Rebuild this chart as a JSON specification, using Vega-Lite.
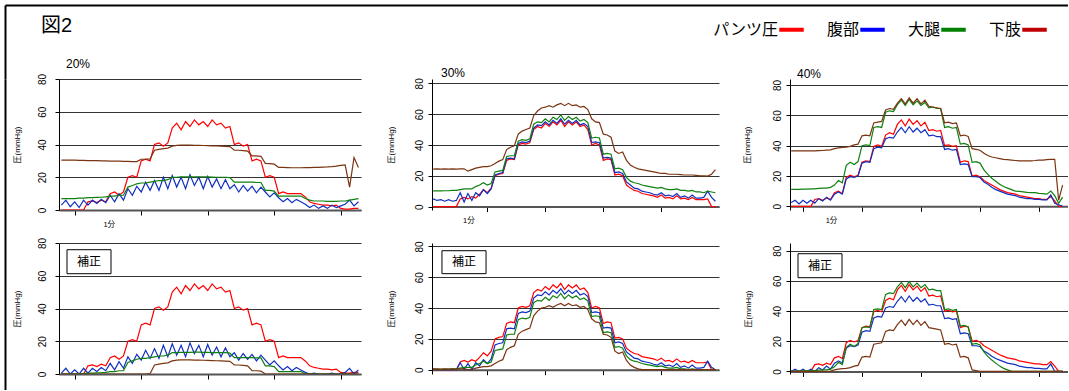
{
  "$schema": "https://vega.github.io/schema/vega-lite/v6.json",
  "padding": {"left": 5, "top": 5, "right": 0, "bottom": 0},
  "background": "white",
  "config": {
    "view": {"stroke": null},
    "font": "Liberation Sans",
    "title": {"font": "Liberation Sans", "fontWeight": "normal", "color": "black"},
    "axis": {"labelColor": "black", "titleColor": "black", "titleFont": "Liberation Sans, Noto Sans CJK JP", "titleFontWeight": "normal", "titleFontSize": 8},
    "axisY": {"grid": true, "gridColor": "#333", "gridWidth": 1, "domainColor": "black", "domainWidth": 1, "tickColor": "black", "tickSize": 4, "labelAngle": 270, "labelAlign": "center", "labelBaseline": "alphabetic", "labelFontSize": 10, "labelFont": "Liberation Sans", "titleAngle": 270, "titleAlign": "center", "titleBaseline": "middle"},
    "axisX": {"grid": false, "domainColor": "#555", "domainWidth": 2, "tickColor": "black", "tickSize": 5, "labelFontSize": 7.5, "labelFont": "Liberation Sans, Noto Sans CJK JP", "labelFlush": false, "labelOverlap": false, "labelBound": false, "labelPadding": 5}
  },
  "datasets": {
    "d20": [
{"t":48,"pants":0,"abd":3,"thigh":7,"leg":30.5,"abd_c":0.5,"thigh_c":0,"leg_c":0},
{"t":52,"pants":0,"abd":6,"thigh":7,"leg":30.5,"abd_c":3.5,"thigh_c":0,"leg_c":0},
{"t":56,"pants":0,"abd":2,"thigh":7,"leg":30.4,"abd_c":0,"thigh_c":0,"leg_c":0},
{"t":60,"pants":0,"abd":5,"thigh":7,"leg":30.4,"abd_c":2.5,"thigh_c":0,"leg_c":0},
{"t":64,"pants":0,"abd":1.5,"thigh":7.2,"leg":30.3,"abd_c":0,"thigh_c":0.2,"leg_c":0},
{"t":68,"pants":0,"abd":6,"thigh":7.3,"leg":30.3,"abd_c":3.5,"thigh_c":0.3,"leg_c":0},
{"t":72,"pants":5,"abd":3,"thigh":7.5,"leg":30.2,"abd_c":0.5,"thigh_c":0.5,"leg_c":0},
{"t":76,"pants":5.5,"abd":6,"thigh":7.5,"leg":30.2,"abd_c":3.5,"thigh_c":0.5,"leg_c":0},
{"t":80,"pants":4.5,"abd":4,"thigh":7.7,"leg":30.1,"abd_c":1.5,"thigh_c":0.7,"leg_c":0},
{"t":84,"pants":6,"abd":6.5,"thigh":7.8,"leg":30,"abd_c":4,"thigh_c":0.8,"leg_c":0},
{"t":88,"pants":5,"abd":4.5,"thigh":8,"leg":30,"abd_c":2,"thigh_c":1,"leg_c":0},
{"t":92,"pants":10,"abd":9,"thigh":8.5,"leg":29.9,"abd_c":6.5,"thigh_c":1.5,"leg_c":0},
{"t":96,"pants":11,"abd":5,"thigh":8.5,"leg":29.8,"abd_c":2.5,"thigh_c":1.5,"leg_c":0},
{"t":100,"pants":9,"abd":10,"thigh":9,"leg":29.8,"abd_c":7.5,"thigh_c":2,"leg_c":0},
{"t":104,"pants":11,"abd":6,"thigh":9,"leg":29.7,"abd_c":3.5,"thigh_c":2,"leg_c":0},
{"t":108,"pants":20,"abd":13,"thigh":14,"leg":29.7,"abd_c":10.5,"thigh_c":7,"leg_c":0},
{"t":112,"pants":21,"abd":9,"thigh":15,"leg":29.6,"abd_c":6.5,"thigh_c":8,"leg_c":0},
{"t":116,"pants":20,"abd":14.5,"thigh":16,"leg":29.6,"abd_c":12,"thigh_c":9,"leg_c":0},
{"t":120,"pants":30,"abd":11,"thigh":16.5,"leg":31,"abd_c":8.5,"thigh_c":9.5,"leg_c":0},
{"t":124,"pants":31,"abd":17,"thigh":16.5,"leg":31,"abd_c":14.5,"thigh_c":9.5,"leg_c":0},
{"t":128,"pants":30,"abd":12,"thigh":17,"leg":31.2,"abd_c":9.5,"thigh_c":10,"leg_c":0.2},
{"t":132,"pants":40,"abd":18,"thigh":17.5,"leg":36.5,"abd_c":15.5,"thigh_c":10.5,"leg_c":5.5},
{"t":136,"pants":41,"abd":12,"thigh":18,"leg":37,"abd_c":9.5,"thigh_c":11,"leg_c":6},
{"t":140,"pants":39,"abd":20,"thigh":18,"leg":37.5,"abd_c":17.5,"thigh_c":11,"leg_c":6.5},
{"t":144,"pants":41,"abd":13,"thigh":18.5,"leg":37.8,"abd_c":10.5,"thigh_c":11.5,"leg_c":6.8},
{"t":148,"pants":50,"abd":21,"thigh":20,"leg":39,"abd_c":18.5,"thigh_c":13,"leg_c":8},
{"t":152,"pants":53,"abd":14,"thigh":20,"leg":39.5,"abd_c":11.5,"thigh_c":13,"leg_c":8.5},
{"t":156,"pants":49,"abd":20,"thigh":20.2,"leg":39.6,"abd_c":17.5,"thigh_c":13.2,"leg_c":8.6},
{"t":160,"pants":54,"abd":13,"thigh":20.2,"leg":39.6,"abd_c":10.5,"thigh_c":13.2,"leg_c":8.6},
{"t":164,"pants":51,"abd":21.5,"thigh":20.2,"leg":39.6,"abd_c":19,"thigh_c":13.2,"leg_c":8.6},
{"t":168,"pants":55,"abd":15,"thigh":20.3,"leg":39.5,"abd_c":12.5,"thigh_c":13.3,"leg_c":8.5},
{"t":172,"pants":52,"abd":20,"thigh":20.3,"leg":39.5,"abd_c":17.5,"thigh_c":13.3,"leg_c":8.5},
{"t":176,"pants":54,"abd":13,"thigh":20.2,"leg":39.4,"abd_c":10.5,"thigh_c":13.2,"leg_c":8.4},
{"t":180,"pants":51,"abd":20.5,"thigh":20.2,"leg":39.3,"abd_c":18,"thigh_c":13.2,"leg_c":8.3},
{"t":184,"pants":55,"abd":14,"thigh":20.1,"leg":39.2,"abd_c":11.5,"thigh_c":13.1,"leg_c":8.2},
{"t":188,"pants":52,"abd":19,"thigh":20,"leg":39.1,"abd_c":16.5,"thigh_c":13,"leg_c":8.1},
{"t":192,"pants":53,"abd":13,"thigh":20,"leg":39,"abd_c":10.5,"thigh_c":13,"leg_c":8},
{"t":196,"pants":50,"abd":18.5,"thigh":20,"leg":38.9,"abd_c":16,"thigh_c":13,"leg_c":7.9},
{"t":200,"pants":51,"abd":13,"thigh":19.8,"leg":38.7,"abd_c":10.5,"thigh_c":12.8,"leg_c":7.7},
{"t":204,"pants":40,"abd":15.5,"thigh":17,"leg":36.5,"abd_c":13,"thigh_c":10,"leg_c":5.5},
{"t":208,"pants":41,"abd":11,"thigh":17,"leg":36.5,"abd_c":8.5,"thigh_c":10,"leg_c":5.5},
{"t":212,"pants":39,"abd":15,"thigh":17,"leg":36.3,"abd_c":12.5,"thigh_c":10,"leg_c":5.3},
{"t":216,"pants":40,"abd":11.5,"thigh":17,"leg":36,"abd_c":9,"thigh_c":10,"leg_c":5},
{"t":220,"pants":30,"abd":14.5,"thigh":17,"leg":33,"abd_c":12,"thigh_c":10,"leg_c":2},
{"t":224,"pants":31,"abd":10.5,"thigh":16.8,"leg":33,"abd_c":8,"thigh_c":9.8,"leg_c":2},
{"t":228,"pants":30,"abd":14,"thigh":16.8,"leg":32.8,"abd_c":11.5,"thigh_c":9.8,"leg_c":1.8},
{"t":232,"pants":20,"abd":11,"thigh":12,"leg":28.5,"abd_c":8.5,"thigh_c":5,"leg_c":0},
{"t":236,"pants":21,"abd":8,"thigh":12,"leg":28.3,"abd_c":5.5,"thigh_c":5,"leg_c":0},
{"t":240,"pants":20,"abd":10.5,"thigh":11.5,"leg":28,"abd_c":8,"thigh_c":4.5,"leg_c":0},
{"t":244,"pants":10,"abd":7.5,"thigh":8.5,"leg":26,"abd_c":5,"thigh_c":1.5,"leg_c":0},
{"t":248,"pants":11,"abd":5,"thigh":8.5,"leg":26,"abd_c":2.5,"thigh_c":1.5,"leg_c":0},
{"t":252,"pants":10,"abd":7,"thigh":8.5,"leg":25.9,"abd_c":4.5,"thigh_c":1.5,"leg_c":0},
{"t":256,"pants":10,"abd":4.5,"thigh":8.5,"leg":25.8,"abd_c":2,"thigh_c":1.5,"leg_c":0},
{"t":260,"pants":10,"abd":6.5,"thigh":8.5,"leg":25.8,"abd_c":4,"thigh_c":1.5,"leg_c":0},
{"t":264,"pants":10,"abd":5,"thigh":8.5,"leg":25.8,"abd_c":2.5,"thigh_c":1.5,"leg_c":0},
{"t":268,"pants":8,"abd":3.5,"thigh":7,"leg":25.9,"abd_c":1,"thigh_c":0,"leg_c":0},
{"t":272,"pants":5,"abd":1.5,"thigh":6,"leg":25.9,"abd_c":0,"thigh_c":0,"leg_c":0},
{"t":276,"pants":4,"abd":3,"thigh":5.5,"leg":26,"abd_c":0.5,"thigh_c":0,"leg_c":0},
{"t":280,"pants":3.5,"abd":1,"thigh":5.5,"leg":26,"abd_c":0,"thigh_c":0,"leg_c":0},
{"t":284,"pants":3,"abd":2.5,"thigh":5.5,"leg":26.2,"abd_c":0,"thigh_c":0,"leg_c":0},
{"t":288,"pants":3,"abd":1,"thigh":5.3,"leg":26.3,"abd_c":0,"thigh_c":0,"leg_c":0},
{"t":292,"pants":2.5,"abd":3,"thigh":5.3,"leg":26.5,"abd_c":0.5,"thigh_c":0,"leg_c":0},
{"t":296,"pants":3,"abd":1.5,"thigh":5.3,"leg":26.8,"abd_c":0,"thigh_c":0,"leg_c":0},
{"t":300,"pants":1,"abd":2.5,"thigh":5.5,"leg":27.2,"abd_c":0,"thigh_c":0,"leg_c":0},
{"t":304,"pants":0.5,"abd":3.5,"thigh":5.5,"leg":27.6,"abd_c":1,"thigh_c":0,"leg_c":0},
{"t":308,"pants":0.5,"abd":6,"thigh":6,"leg":14,"abd_c":3.5,"thigh_c":0,"leg_c":0},
{"t":312,"pants":1,"abd":2.5,"thigh":6.5,"leg":32,"abd_c":0,"thigh_c":0,"leg_c":0},
{"t":316,"pants":1,"abd":5,"thigh":7,"leg":26,"abd_c":2.5,"thigh_c":0,"leg_c":0}
    ],
    "d30": [
{"t":64,"pants":0,"abd":5,"thigh":10.2,"leg":24.3,"abd_c":0.5,"thigh_c":0.2,"leg_c":0.3},
{"t":68,"pants":0,"abd":4,"thigh":10.2,"leg":24.5,"abd_c":0,"thigh_c":0.2,"leg_c":0.5},
{"t":72,"pants":0,"abd":4.5,"thigh":10.2,"leg":24.3,"abd_c":0,"thigh_c":0.2,"leg_c":0.3},
{"t":76,"pants":0,"abd":3.5,"thigh":10.3,"leg":24.5,"abd_c":0,"thigh_c":0.3,"leg_c":0.5},
{"t":80,"pants":0,"abd":4.5,"thigh":10.3,"leg":24.3,"abd_c":0,"thigh_c":0.3,"leg_c":0.3},
{"t":84,"pants":0,"abd":3.5,"thigh":10.5,"leg":24.5,"abd_c":0,"thigh_c":0.5,"leg_c":0.5},
{"t":88,"pants":0,"abd":4,"thigh":10.5,"leg":24.3,"abd_c":0,"thigh_c":0.5,"leg_c":0.3},
{"t":92,"pants":5,"abd":9,"thigh":11,"leg":24.5,"abd_c":4.5,"thigh_c":1,"leg_c":0.5},
{"t":96,"pants":6,"abd":3,"thigh":11.5,"leg":24.5,"abd_c":0,"thigh_c":1.5,"leg_c":0.5},
{"t":100,"pants":5,"abd":8.5,"thigh":11.5,"leg":23,"abd_c":4,"thigh_c":1.5,"leg_c":0},
{"t":104,"pants":6.5,"abd":4,"thigh":11.5,"leg":24,"abd_c":0,"thigh_c":1.5,"leg_c":0},
{"t":108,"pants":5.5,"abd":9,"thigh":13,"leg":25,"abd_c":4.5,"thigh_c":3,"leg_c":1},
{"t":112,"pants":8,"abd":7,"thigh":14,"leg":25.5,"abd_c":2.5,"thigh_c":4,"leg_c":1.5},
{"t":116,"pants":11,"abd":11,"thigh":15.5,"leg":26,"abd_c":6.5,"thigh_c":5.5,"leg_c":2},
{"t":120,"pants":9,"abd":8.5,"thigh":14,"leg":26,"abd_c":4,"thigh_c":4,"leg_c":2},
{"t":124,"pants":12,"abd":11.5,"thigh":15,"leg":26.5,"abd_c":7,"thigh_c":5,"leg_c":2.5},
{"t":128,"pants":20,"abd":20.5,"thigh":22.5,"leg":28,"abd_c":16,"thigh_c":12.5,"leg_c":4},
{"t":132,"pants":21,"abd":21.5,"thigh":23,"leg":29.5,"abd_c":17,"thigh_c":13,"leg_c":5.5},
{"t":136,"pants":21.5,"abd":22,"thigh":23.5,"leg":30.5,"abd_c":17.5,"thigh_c":13.5,"leg_c":6.5},
{"t":140,"pants":30,"abd":31,"thigh":32.5,"leg":37,"abd_c":26.5,"thigh_c":22.5,"leg_c":13},
{"t":144,"pants":31,"abd":31.5,"thigh":33,"leg":38.5,"abd_c":27,"thigh_c":23,"leg_c":14.5},
{"t":148,"pants":30.5,"abd":31,"thigh":33,"leg":39.5,"abd_c":26.5,"thigh_c":23,"leg_c":15.5},
{"t":152,"pants":40,"abd":41,"thigh":42.5,"leg":47,"abd_c":36.5,"thigh_c":32.5,"leg_c":23},
{"t":156,"pants":41,"abd":42,"thigh":43.5,"leg":49,"abd_c":37.5,"thigh_c":33.5,"leg_c":25},
{"t":160,"pants":40.5,"abd":41.5,"thigh":43,"leg":50,"abd_c":37,"thigh_c":33,"leg_c":26},
{"t":164,"pants":41.5,"abd":42.5,"thigh":44,"leg":51,"abd_c":38,"thigh_c":34,"leg_c":27},
{"t":168,"pants":50,"abd":51,"thigh":53.5,"leg":59,"abd_c":46.5,"thigh_c":43.5,"leg_c":35},
{"t":172,"pants":52,"abd":53,"thigh":55,"leg":62,"abd_c":48.5,"thigh_c":45,"leg_c":38},
{"t":176,"pants":51,"abd":52.5,"thigh":54.5,"leg":64,"abd_c":48,"thigh_c":44.5,"leg_c":40},
{"t":180,"pants":54,"abd":55,"thigh":57,"leg":64.5,"abd_c":50.5,"thigh_c":47,"leg_c":40.5},
{"t":184,"pants":52,"abd":53,"thigh":55,"leg":65.5,"abd_c":48.5,"thigh_c":45,"leg_c":41.5},
{"t":188,"pants":55,"abd":56,"thigh":58,"leg":64.5,"abd_c":51.5,"thigh_c":48,"leg_c":40.5},
{"t":192,"pants":53,"abd":54,"thigh":56.5,"leg":66,"abd_c":49.5,"thigh_c":46.5,"leg_c":42},
{"t":196,"pants":56,"abd":57,"thigh":59.5,"leg":67,"abd_c":52.5,"thigh_c":49.5,"leg_c":43},
{"t":200,"pants":52,"abd":53.5,"thigh":56,"leg":65.5,"abd_c":49,"thigh_c":46,"leg_c":41.5},
{"t":204,"pants":55,"abd":56,"thigh":58.5,"leg":67,"abd_c":51.5,"thigh_c":48.5,"leg_c":43},
{"t":208,"pants":53,"abd":54,"thigh":56.5,"leg":65.5,"abd_c":49.5,"thigh_c":46.5,"leg_c":41.5},
{"t":212,"pants":55,"abd":56,"thigh":58,"leg":66,"abd_c":51.5,"thigh_c":48,"leg_c":42},
{"t":216,"pants":52,"abd":53,"thigh":55.5,"leg":64.5,"abd_c":48.5,"thigh_c":45.5,"leg_c":40.5},
{"t":220,"pants":53,"abd":54,"thigh":56.5,"leg":65,"abd_c":49.5,"thigh_c":46.5,"leg_c":41},
{"t":224,"pants":50,"abd":52,"thigh":54.5,"leg":63,"abd_c":47.5,"thigh_c":44.5,"leg_c":39},
{"t":228,"pants":40,"abd":41.5,"thigh":44.5,"leg":57,"abd_c":37,"thigh_c":34.5,"leg_c":33},
{"t":232,"pants":41,"abd":42,"thigh":45,"leg":55,"abd_c":37.5,"thigh_c":35,"leg_c":31},
{"t":236,"pants":40,"abd":41.5,"thigh":44.5,"leg":54.5,"abd_c":37,"thigh_c":34.5,"leg_c":30.5},
{"t":240,"pants":30,"abd":31.5,"thigh":34,"leg":47,"abd_c":27,"thigh_c":24,"leg_c":23},
{"t":244,"pants":31,"abd":32,"thigh":34.5,"leg":46.5,"abd_c":27.5,"thigh_c":24.5,"leg_c":22.5},
{"t":248,"pants":30.5,"abd":31.5,"thigh":34,"leg":45,"abd_c":27,"thigh_c":24,"leg_c":21},
{"t":252,"pants":20.5,"abd":22,"thigh":24.5,"leg":36,"abd_c":17.5,"thigh_c":14.5,"leg_c":12},
{"t":256,"pants":21,"abd":22.5,"thigh":25,"leg":34.5,"abd_c":18,"thigh_c":15,"leg_c":10.5},
{"t":260,"pants":20,"abd":21.5,"thigh":24,"leg":35.5,"abd_c":17,"thigh_c":14,"leg_c":11.5},
{"t":264,"pants":14,"abd":16,"thigh":19,"leg":30,"abd_c":11.5,"thigh_c":9,"leg_c":6},
{"t":268,"pants":12,"abd":14,"thigh":16.5,"leg":27,"abd_c":9.5,"thigh_c":6.5,"leg_c":3},
{"t":272,"pants":10.5,"abd":12,"thigh":15.5,"leg":25.5,"abd_c":7.5,"thigh_c":5.5,"leg_c":1.5},
{"t":276,"pants":10,"abd":11.5,"thigh":15,"leg":24.5,"abd_c":7,"thigh_c":5,"leg_c":0.5},
{"t":280,"pants":8.5,"abd":10,"thigh":14,"leg":24,"abd_c":5.5,"thigh_c":4,"leg_c":0},
{"t":284,"pants":8,"abd":9.5,"thigh":13.5,"leg":23.5,"abd_c":5,"thigh_c":3.5,"leg_c":0},
{"t":288,"pants":7.5,"abd":9,"thigh":13,"leg":23,"abd_c":4.5,"thigh_c":3,"leg_c":0},
{"t":292,"pants":7,"abd":8,"thigh":12.5,"leg":22.5,"abd_c":3.5,"thigh_c":2.5,"leg_c":0},
{"t":296,"pants":6,"abd":7.5,"thigh":12,"leg":22,"abd_c":3,"thigh_c":2,"leg_c":0},
{"t":300,"pants":7.5,"abd":9,"thigh":12.5,"leg":21.5,"abd_c":4.5,"thigh_c":2.5,"leg_c":0},
{"t":304,"pants":5.5,"abd":7,"thigh":11.5,"leg":21.5,"abd_c":2.5,"thigh_c":1.5,"leg_c":0},
{"t":308,"pants":6,"abd":7.5,"thigh":11,"leg":21,"abd_c":3,"thigh_c":1,"leg_c":0},
{"t":312,"pants":5,"abd":6.5,"thigh":11,"leg":21,"abd_c":2,"thigh_c":1,"leg_c":0},
{"t":316,"pants":7,"abd":8.5,"thigh":11.5,"leg":21,"abd_c":4,"thigh_c":1.5,"leg_c":0},
{"t":320,"pants":5,"abd":6,"thigh":10.5,"leg":20.8,"abd_c":1.5,"thigh_c":0.5,"leg_c":0},
{"t":324,"pants":5.5,"abd":7,"thigh":10.5,"leg":20.5,"abd_c":2.5,"thigh_c":0.5,"leg_c":0},
{"t":328,"pants":4.5,"abd":5.5,"thigh":10,"leg":20.5,"abd_c":1,"thigh_c":0,"leg_c":0},
{"t":332,"pants":6,"abd":7.5,"thigh":10.5,"leg":20.5,"abd_c":3,"thigh_c":0.5,"leg_c":0},
{"t":336,"pants":4.5,"abd":5.5,"thigh":9.5,"leg":20.3,"abd_c":1,"thigh_c":0,"leg_c":0},
{"t":340,"pants":4.5,"abd":5.5,"thigh":9.5,"leg":20,"abd_c":1,"thigh_c":0,"leg_c":0},
{"t":344,"pants":4.5,"abd":6,"thigh":9,"leg":20,"abd_c":1.5,"thigh_c":0,"leg_c":0},
{"t":348,"pants":5,"abd":10,"thigh":10,"leg":19.8,"abd_c":5.5,"thigh_c":0,"leg_c":0},
{"t":352,"pants":0,"abd":6,"thigh":9.5,"leg":21,"abd_c":1.5,"thigh_c":0,"leg_c":0},
{"t":356,"pants":0,"abd":3.5,"thigh":9,"leg":24,"abd_c":0,"thigh_c":0,"leg_c":0}
    ],
    "d40": [
{"t":48,"pants":0,"abd":2.5,"thigh":11.2,"leg":36.6,"abd_c":0,"thigh_c":0.2,"leg_c":0},
{"t":52,"pants":0,"abd":4,"thigh":11.2,"leg":36.5,"abd_c":1.5,"thigh_c":0.2,"leg_c":0},
{"t":56,"pants":0,"abd":1.5,"thigh":11.2,"leg":36.6,"abd_c":0,"thigh_c":0.2,"leg_c":0},
{"t":60,"pants":0,"abd":4,"thigh":11.3,"leg":36.5,"abd_c":1.5,"thigh_c":0.3,"leg_c":0},
{"t":64,"pants":0,"abd":2,"thigh":11.3,"leg":36.5,"abd_c":0,"thigh_c":0.3,"leg_c":0},
{"t":68,"pants":0,"abd":4,"thigh":11.5,"leg":36.6,"abd_c":1.5,"thigh_c":0.5,"leg_c":0},
{"t":72,"pants":4.5,"abd":2,"thigh":11.5,"leg":36.5,"abd_c":0,"thigh_c":0.5,"leg_c":0},
{"t":76,"pants":5,"abd":5,"thigh":11.8,"leg":36.7,"abd_c":2.5,"thigh_c":0.8,"leg_c":0},
{"t":80,"pants":4,"abd":3.5,"thigh":12,"leg":36.8,"abd_c":1,"thigh_c":1,"leg_c":0},
{"t":84,"pants":5.5,"abd":6,"thigh":12,"leg":37,"abd_c":3.5,"thigh_c":1,"leg_c":0},
{"t":88,"pants":4.5,"abd":4,"thigh":12.5,"leg":37.2,"abd_c":1.5,"thigh_c":1.5,"leg_c":0.2},
{"t":92,"pants":9,"abd":8,"thigh":14,"leg":38,"abd_c":5.5,"thigh_c":3,"leg_c":1},
{"t":96,"pants":10,"abd":9.5,"thigh":17,"leg":38.5,"abd_c":7,"thigh_c":6,"leg_c":1.5},
{"t":100,"pants":8.5,"abd":8,"thigh":15.5,"leg":38.8,"abd_c":5.5,"thigh_c":4.5,"leg_c":1.8},
{"t":104,"pants":19,"abd":18,"thigh":27,"leg":39,"abd_c":15.5,"thigh_c":16,"leg_c":2},
{"t":108,"pants":20.5,"abd":19.5,"thigh":29,"leg":39.5,"abd_c":17,"thigh_c":18,"leg_c":2.5},
{"t":112,"pants":19.5,"abd":19,"thigh":27.5,"leg":40.5,"abd_c":16.5,"thigh_c":16.5,"leg_c":3.5},
{"t":116,"pants":20.5,"abd":20,"thigh":29.5,"leg":41,"abd_c":17.5,"thigh_c":18.5,"leg_c":4},
{"t":120,"pants":29,"abd":28.5,"thigh":40,"leg":46.5,"abd_c":26,"thigh_c":29,"leg_c":9.5},
{"t":124,"pants":30,"abd":29.5,"thigh":40.5,"leg":47,"abd_c":27,"thigh_c":29.5,"leg_c":10},
{"t":128,"pants":29.5,"abd":29,"thigh":40,"leg":46.5,"abd_c":26.5,"thigh_c":29,"leg_c":9.5},
{"t":132,"pants":39.5,"abd":38,"thigh":52,"leg":55,"abd_c":35.5,"thigh_c":41,"leg_c":18},
{"t":136,"pants":40.5,"abd":39,"thigh":52.5,"leg":55.5,"abd_c":36.5,"thigh_c":41.5,"leg_c":18.5},
{"t":140,"pants":39.5,"abd":38.5,"thigh":52,"leg":56,"abd_c":36,"thigh_c":41,"leg_c":19},
{"t":144,"pants":47,"abd":44.5,"thigh":62,"leg":63.5,"abd_c":42,"thigh_c":51,"leg_c":26.5},
{"t":148,"pants":48.5,"abd":45.5,"thigh":63,"leg":64.5,"abd_c":43,"thigh_c":52,"leg_c":27.5},
{"t":152,"pants":47.5,"abd":45,"thigh":62.5,"leg":64,"abd_c":42.5,"thigh_c":51.5,"leg_c":27},
{"t":156,"pants":54,"abd":49,"thigh":67,"leg":68,"abd_c":46.5,"thigh_c":56,"leg_c":31},
{"t":160,"pants":57,"abd":52,"thigh":70,"leg":71,"abd_c":49.5,"thigh_c":59,"leg_c":34},
{"t":164,"pants":53,"abd":48.5,"thigh":66.5,"leg":67.5,"abd_c":46,"thigh_c":55.5,"leg_c":30.5},
{"t":168,"pants":57.5,"abd":52.5,"thigh":70.5,"leg":71.5,"abd_c":50,"thigh_c":59.5,"leg_c":34.5},
{"t":172,"pants":54,"abd":49,"thigh":67,"leg":68,"abd_c":46.5,"thigh_c":56,"leg_c":31},
{"t":176,"pants":56.5,"abd":51.5,"thigh":69.5,"leg":71,"abd_c":49,"thigh_c":58.5,"leg_c":34},
{"t":180,"pants":53,"abd":48.5,"thigh":66.5,"leg":67.5,"abd_c":46,"thigh_c":55.5,"leg_c":30.5},
{"t":184,"pants":55.5,"abd":50.5,"thigh":68.5,"leg":70,"abd_c":48,"thigh_c":57.5,"leg_c":33},
{"t":188,"pants":50,"abd":46.5,"thigh":65,"leg":66,"abd_c":44,"thigh_c":54,"leg_c":29},
{"t":192,"pants":50.5,"abd":47,"thigh":65.5,"leg":65.5,"abd_c":44.5,"thigh_c":54.5,"leg_c":28.5},
{"t":196,"pants":49.5,"abd":46,"thigh":64.5,"leg":65,"abd_c":43.5,"thigh_c":53.5,"leg_c":28},
{"t":200,"pants":50,"abd":46,"thigh":64.5,"leg":64.5,"abd_c":43.5,"thigh_c":53.5,"leg_c":27.5},
{"t":204,"pants":40,"abd":37.5,"thigh":52,"leg":55,"abd_c":35,"thigh_c":41,"leg_c":18},
{"t":208,"pants":40.5,"abd":38,"thigh":52.5,"leg":55.5,"abd_c":35.5,"thigh_c":41.5,"leg_c":18.5},
{"t":212,"pants":39.5,"abd":37,"thigh":51.5,"leg":54.5,"abd_c":34.5,"thigh_c":40.5,"leg_c":17.5},
{"t":216,"pants":40,"abd":37.5,"thigh":52,"leg":55,"abd_c":35,"thigh_c":41,"leg_c":18},
{"t":220,"pants":29,"abd":27.5,"thigh":41,"leg":46.5,"abd_c":25,"thigh_c":30,"leg_c":9.5},
{"t":224,"pants":30,"abd":28,"thigh":41.5,"leg":47,"abd_c":25.5,"thigh_c":30.5,"leg_c":10},
{"t":228,"pants":29.5,"abd":27.5,"thigh":40.5,"leg":46,"abd_c":25,"thigh_c":29.5,"leg_c":9},
{"t":232,"pants":20,"abd":19.5,"thigh":29,"leg":38,"abd_c":17,"thigh_c":18,"leg_c":1},
{"t":236,"pants":20.5,"abd":19.5,"thigh":29.5,"leg":37.5,"abd_c":17,"thigh_c":18.5,"leg_c":0.5},
{"t":240,"pants":19.5,"abd":19,"thigh":28.5,"leg":37,"abd_c":16.5,"thigh_c":17.5,"leg_c":0},
{"t":244,"pants":17,"abd":16,"thigh":24,"leg":35,"abd_c":13.5,"thigh_c":13,"leg_c":0},
{"t":248,"pants":15.5,"abd":14.5,"thigh":21,"leg":33.5,"abd_c":12,"thigh_c":10,"leg_c":0},
{"t":252,"pants":14,"abd":12.5,"thigh":18.5,"leg":32.5,"abd_c":10,"thigh_c":7.5,"leg_c":0},
{"t":256,"pants":12.5,"abd":11,"thigh":16.5,"leg":32,"abd_c":8.5,"thigh_c":5.5,"leg_c":0},
{"t":260,"pants":11,"abd":10,"thigh":14.5,"leg":31.5,"abd_c":7.5,"thigh_c":3.5,"leg_c":0},
{"t":264,"pants":10,"abd":9,"thigh":13,"leg":31,"abd_c":6.5,"thigh_c":2,"leg_c":0},
{"t":268,"pants":9,"abd":8,"thigh":12,"leg":30.8,"abd_c":5.5,"thigh_c":1,"leg_c":0},
{"t":272,"pants":8.5,"abd":7.5,"thigh":11,"leg":30.5,"abd_c":5,"thigh_c":0,"leg_c":0},
{"t":276,"pants":8,"abd":7,"thigh":10,"leg":30.2,"abd_c":4.5,"thigh_c":0,"leg_c":0},
{"t":280,"pants":7,"abd":6,"thigh":9.8,"leg":30,"abd_c":3.5,"thigh_c":0,"leg_c":0},
{"t":284,"pants":6.5,"abd":5.5,"thigh":9.5,"leg":30,"abd_c":3,"thigh_c":0,"leg_c":0},
{"t":288,"pants":6,"abd":5,"thigh":9.2,"leg":30,"abd_c":2.5,"thigh_c":0,"leg_c":0},
{"t":292,"pants":5.5,"abd":5,"thigh":9,"leg":30,"abd_c":2.5,"thigh_c":0,"leg_c":0},
{"t":296,"pants":5,"abd":4.5,"thigh":9,"leg":30.2,"abd_c":2,"thigh_c":0,"leg_c":0},
{"t":300,"pants":5,"abd":4.5,"thigh":8.5,"leg":30.5,"abd_c":2,"thigh_c":0,"leg_c":0},
{"t":304,"pants":4.5,"abd":4.2,"thigh":8.3,"leg":30.5,"abd_c":1.7,"thigh_c":0,"leg_c":0},
{"t":308,"pants":4.5,"abd":4.2,"thigh":8,"leg":30.8,"abd_c":1.7,"thigh_c":0,"leg_c":0},
{"t":312,"pants":6.5,"abd":7.5,"thigh":10,"leg":31,"abd_c":5,"thigh_c":0,"leg_c":0},
{"t":316,"pants":3.5,"abd":2,"thigh":7,"leg":31,"abd_c":0,"thigh_c":0,"leg_c":0},
{"t":320,"pants":0,"abd":1,"thigh":2,"leg":4,"abd_c":0,"thigh_c":0,"leg_c":0},
{"t":324,"pants":0,"abd":0,"thigh":6,"leg":14,"abd_c":0,"thigh_c":0,"leg_c":0}
    ]
  },
  "resolve": {"scale": {"color": "independent"}, "legend": {"color": "independent"}},
  "spacing": -22,
  "vconcat": [
    {
      "width": 1063, "height": 74,
      "data": {"values": [{"series": "パンツ圧"}, {"series": "腹部"}, {"series": "大腿"}, {"series": "下肢"}]},
      "mark": {"type": "line"},
      "encoding": {
        "x": {"field": "series", "type": "nominal", "axis": {"orient": "top", "domainColor": "black", "domainWidth": 2, "ticks": false, "labels": false, "title": null, "grid": false}},
        "y": {"field": "series", "type": "nominal", "axis": {"orient": "left", "domainColor": "black", "domainWidth": 2, "ticks": false, "labels": false, "title": null, "grid": false}},
        "color": {"field": "series", "type": "nominal",
          "scale": {"domain": ["パンツ圧", "腹部", "大腿", "下肢"], "range": ["#ff0000", "#0000ff", "#008000", "#c00000"]},
          "legend": {"orient": "none", "legendX": 772, "legendY": 10, "direction": "horizontal", "title": null, "labelFont": "Noto Sans CJK JP", "labelFontSize": 16, "labelColor": "black", "symbolType": "stroke", "symbolStrokeWidth": 4, "symbolSize": 600, "symbolOpacity": 1, "labelAlign": "right", "labelOffset": -28, "columnPadding": 14, "padding": 0}}
      },
      "title": {"text": "図2", "orient": "bottom", "anchor": "start", "frame": "group", "dx": 36, "offset": -63, "baseline": "top", "fontSize": 20, "font": "Liberation Sans, Noto Sans CJK JP"}
    },
    {
      "spacing": 7,
      "resolve": {"scale": {"color": "independent"}, "legend": {"color": "independent"}},
      "hconcat": [
        {
          "width": 1, "height": 311,
          "data": {"values": [{"v": 0}, {"v": 1}]},
          "mark": {"type": "point", "size": 0, "opacity": 0},
          "encoding": {
            "y": {"field": "v", "type": "quantitative", "axis": {"orient": "left", "domainColor": "black", "domainWidth": 2, "ticks": false, "labels": false, "title": null, "grid": false}}
          }
        },
        {
          "spacing": 9,
          "resolve": {"scale": {"color": "independent"}, "legend": {"color": "independent"}},
          "vconcat": [
            {
              "hconcat": [
                {
                  "width": 302, "height": 131,
                  "title": {"text": "20%", "anchor": "start", "frame": "group", "dx": 7, "offset": 2, "fontSize": 12},
                  "data": {"name": "d20"},
                  "transform": [{"fold": ["pants", "abd", "thigh", "leg"], "as": ["series", "value"]}],
                  "mark": {"type": "line", "strokeWidth": 1.2, "clip": true},
                  "encoding": {
                    "x": {"field": "t", "type": "quantitative", "scale": {"domain": [45.83, 318.3], "nice": false, "zero": false},
                      "axis": {"values": [60, 120, 180, 240, 300], "title": null, "labelExpr": "datum.value == 60 ? '1分' : ''", "labelOffset": 34}},
                    "y": {"field": "value", "type": "quantitative", "scale": {"domain": [0, 80], "nice": false, "zero": false},
                      "axis": {"values": [0, 20, 40, 60, 80], "title": "圧(mmHg)", "titleX": -42, "labelPadding": 9.3}},
                    "color": {"field": "series", "type": "nominal", "scale": {"domain": ["pants", "abd", "thigh", "leg"], "range": ["#ff0000", "#1030c0", "#108010", "#7a3410"]}, "legend": null}
                  }
                },
                {
                  "width": 287, "height": 131,
                  "title": {"text": "30%", "anchor": "start", "frame": "group", "dx": 9, "offset": -2, "fontSize": 12},
                  "data": {"name": "d30"},
                  "transform": [{"fold": ["pants", "abd", "thigh", "leg"], "as": ["series", "value"]}],
                  "mark": {"type": "line", "strokeWidth": 1.2, "clip": true},
                  "encoding": {
                    "x": {"field": "t", "type": "quantitative", "scale": {"domain": [62.8, 359.7], "nice": false, "zero": false},
                      "axis": {"values": [120, 180, 240, 300], "title": null, "offset": -3.4, "labelExpr": "datum.value == 120 ? '1分' : ''", "labelOffset": -19}},
                    "y": {"field": "value", "type": "quantitative", "scale": {"domain": [-2.2, 82.8], "nice": false, "zero": false},
                      "axis": {"values": [0, 20, 40, 60, 80], "title": "圧(mmHg)", "titleX": -40.7, "labelPadding": 5.4}},
                    "color": {"field": "series", "type": "nominal", "scale": {"domain": ["pants", "abd", "thigh", "leg"], "range": ["#ff0000", "#1030c0", "#108010", "#7a3410"]}, "legend": null}
                  }
                },
                {
                  "width": 278, "height": 131,
                  "title": {"text": "40%", "anchor": "start", "frame": "group", "dx": 7, "offset": -1.5, "fontSize": 12},
                  "data": {"name": "d40"},
                  "transform": [{"fold": ["pants", "abd", "thigh", "leg"], "as": ["series", "value"]}],
                  "mark": {"type": "line", "strokeWidth": 1.2, "clip": true},
                  "encoding": {
                    "x": {"field": "t", "type": "quantitative", "scale": {"domain": [46.8, 329.5], "nice": false, "zero": false},
                      "axis": {"values": [60, 120, 180, 240, 300], "title": null, "offset": -3.7, "labelExpr": "datum.value == 60 ? '1分' : ''", "labelOffset": 28}},
                    "y": {"field": "value", "type": "quantitative", "scale": {"domain": [-2.45, 83.97], "nice": false, "zero": false},
                      "axis": {"values": [0, 20, 40, 60, 80], "title": "圧(mmHg)", "titleX": -43, "labelPadding": 5.3}},
                    "color": {"field": "series", "type": "nominal", "scale": {"domain": ["pants", "abd", "thigh", "leg"], "range": ["#ff0000", "#1030c0", "#108010", "#7a3410"]}, "legend": null}
                  }
                }
              ],
              "spacing": 71,
              "bounds": "flush",
              "resolve": {"scale": {"color": "independent"}, "legend": {"color": "independent"}}
            },
            {
              "hconcat": [
                {
                  "width": 302, "height": 131,
                  "layer": [
                    {
                      "data": {"name": "d20"},
                      "transform": [{"fold": ["pants", "abd_c", "thigh_c", "leg_c"], "as": ["series", "value"]}],
                      "mark": {"type": "line", "strokeWidth": 1.2, "clip": true},
                      "encoding": {
                        "x": {"field": "t", "type": "quantitative", "scale": {"domain": [45.83, 318.3], "nice": false, "zero": false},
                          "axis": {"values": [60, 120, 180, 240, 300], "title": null, "labels": false}},
                        "y": {"field": "value", "type": "quantitative", "scale": {"domain": [0, 80], "nice": false, "zero": false},
                          "axis": {"values": [0, 20, 40, 60, 80], "title": "圧(mmHg)", "titleX": -42, "labelPadding": 9.3}},
                        "color": {"field": "series", "type": "nominal", "scale": {"domain": ["pants", "abd_c", "thigh_c", "leg_c"], "range": ["#ff0000", "#1030c0", "#108010", "#7a3410"]}, "legend": null}
                      }
                    },
                    {
                      "data": {"values": [{}]},
                      "mark": {"type": "rect", "fill": "white", "stroke": "black", "strokeWidth": 1},
                      "encoding": {
                        "x": {"datum": 53.05, "type": "quantitative", "axis": {"values": [60, 120, 180, 240, 300], "title": null, "labels": false}},
                        "x2": {"datum": 92.75},
                        "y": {"datum": 75.9, "type": "quantitative", "axis": {"values": [0, 20, 40, 60, 80], "title": "圧(mmHg)", "titleX": -42, "labelPadding": 9.3}},
                        "y2": {"datum": 61.25}}
                    },
                    {
                      "data": {"values": [{}]},
                      "mark": {"type": "text", "text": "補正", "font": "Noto Sans CJK JP", "fontSize": 12, "color": "black", "align": "center", "baseline": "middle"},
                      "encoding": {
                        "x": {"datum": 72.9, "type": "quantitative", "axis": {"values": [60, 120, 180, 240, 300], "title": null, "labels": false}},
                        "y": {"datum": 68.6, "type": "quantitative", "axis": {"values": [0, 20, 40, 60, 80], "title": "圧(mmHg)", "titleX": -42, "labelPadding": 9.3}}}
                    }
                  ]
                },
                {
                  "width": 287, "height": 131,
                  "layer": [
                    {
                      "data": {"name": "d30"},
                      "transform": [{"fold": ["pants", "abd_c", "thigh_c", "leg_c"], "as": ["series", "value"]}],
                      "mark": {"type": "line", "strokeWidth": 1.2, "clip": true},
                      "encoding": {
                        "x": {"field": "t", "type": "quantitative", "scale": {"domain": [62.8, 359.7], "nice": false, "zero": false},
                          "axis": {"values": [120, 180, 240, 300], "title": null, "labels": false, "offset": -4.3}},
                        "y": {"field": "value", "type": "quantitative", "scale": {"domain": [-2.8, 82.2], "nice": false, "zero": false},
                          "axis": {"values": [0, 20, 40, 60, 80], "title": "圧(mmHg)", "titleX": -40.2, "labelPadding": 5.4}},
                        "color": {"field": "series", "type": "nominal", "scale": {"domain": ["pants", "abd_c", "thigh_c", "leg_c"], "range": ["#ff0000", "#1030c0", "#108010", "#7a3410"]}, "legend": null}
                      }
                    },
                    {
                      "data": {"values": [{}]},
                      "mark": {"type": "rect", "fill": "white", "stroke": "black", "strokeWidth": 1},
                      "encoding": {
                        "x": {"datum": 73.1, "type": "quantitative", "axis": {"values": [120, 180, 240, 300], "title": null, "labels": false, "offset": -4.3}},
                        "x2": {"datum": 118.7},
                        "y": {"datum": 77.2, "type": "quantitative", "axis": {"values": [0, 20, 40, 60, 80], "title": "圧(mmHg)", "titleX": -40.2, "labelPadding": 5.4}},
                        "y2": {"datum": 62.3}}
                    },
                    {
                      "data": {"values": [{}]},
                      "mark": {"type": "text", "text": "補正", "font": "Noto Sans CJK JP", "fontSize": 12, "color": "black", "align": "center", "baseline": "middle"},
                      "encoding": {
                        "x": {"datum": 95.9, "type": "quantitative", "axis": {"values": [120, 180, 240, 300], "title": null, "labels": false, "offset": -4.3}},
                        "y": {"datum": 69.7, "type": "quantitative", "axis": {"values": [0, 20, 40, 60, 80], "title": "圧(mmHg)", "titleX": -40.2, "labelPadding": 5.4}}}
                    }
                  ]
                },
                {
                  "width": 278, "height": 131,
                  "layer": [
                    {
                      "data": {"name": "d40"},
                      "transform": [{"fold": ["pants", "abd_c", "thigh_c", "leg_c"], "as": ["series", "value"]}],
                      "mark": {"type": "line", "strokeWidth": 1.2, "clip": true},
                      "encoding": {
                        "x": {"field": "t", "type": "quantitative", "scale": {"domain": [46.8, 329.5], "nice": false, "zero": false},
                          "axis": {"values": [60, 120, 180, 240, 300], "title": null, "labels": false, "offset": -2.6}},
                        "y": {"field": "value", "type": "quantitative", "scale": {"domain": [-1.72, 85.1], "nice": false, "zero": false},
                          "axis": {"values": [0, 20, 40, 60, 80], "title": "圧(mmHg)", "titleX": -41.5, "labelPadding": 5.3}},
                        "color": {"field": "series", "type": "nominal", "scale": {"domain": ["pants", "abd_c", "thigh_c", "leg_c"], "range": ["#ff0000", "#1030c0", "#108010", "#7a3410"]}, "legend": null}
                      }
                    },
                    {
                      "data": {"values": [{}]},
                      "mark": {"type": "rect", "fill": "white", "stroke": "black", "strokeWidth": 1},
                      "encoding": {
                        "x": {"datum": 54.94, "type": "quantitative", "axis": {"values": [60, 120, 180, 240, 300], "title": null, "labels": false, "offset": -2.6}},
                        "x2": {"datum": 99.68},
                        "y": {"datum": 78.0, "type": "quantitative", "axis": {"values": [0, 20, 40, 60, 80], "title": "圧(mmHg)", "titleX": -41.5, "labelPadding": 5.3}},
                        "y2": {"datum": 62.1}}
                    },
                    {
                      "data": {"values": [{}]},
                      "mark": {"type": "text", "text": "補正", "font": "Noto Sans CJK JP", "fontSize": 12, "color": "black", "align": "center", "baseline": "middle"},
                      "encoding": {
                        "x": {"datum": 77.3, "type": "quantitative", "axis": {"values": [60, 120, 180, 240, 300], "title": null, "labels": false, "offset": -2.6}},
                        "y": {"datum": 70.1, "type": "quantitative", "axis": {"values": [0, 20, 40, 60, 80], "title": "圧(mmHg)", "titleX": -41.5, "labelPadding": 5.3}}}
                    }
                  ]
                }
              ],
              "spacing": 71,
              "bounds": "flush",
              "resolve": {"scale": {"color": "independent"}, "legend": {"color": "independent"}}
            }
          ]
        }
      ]
    }
  ]
}
